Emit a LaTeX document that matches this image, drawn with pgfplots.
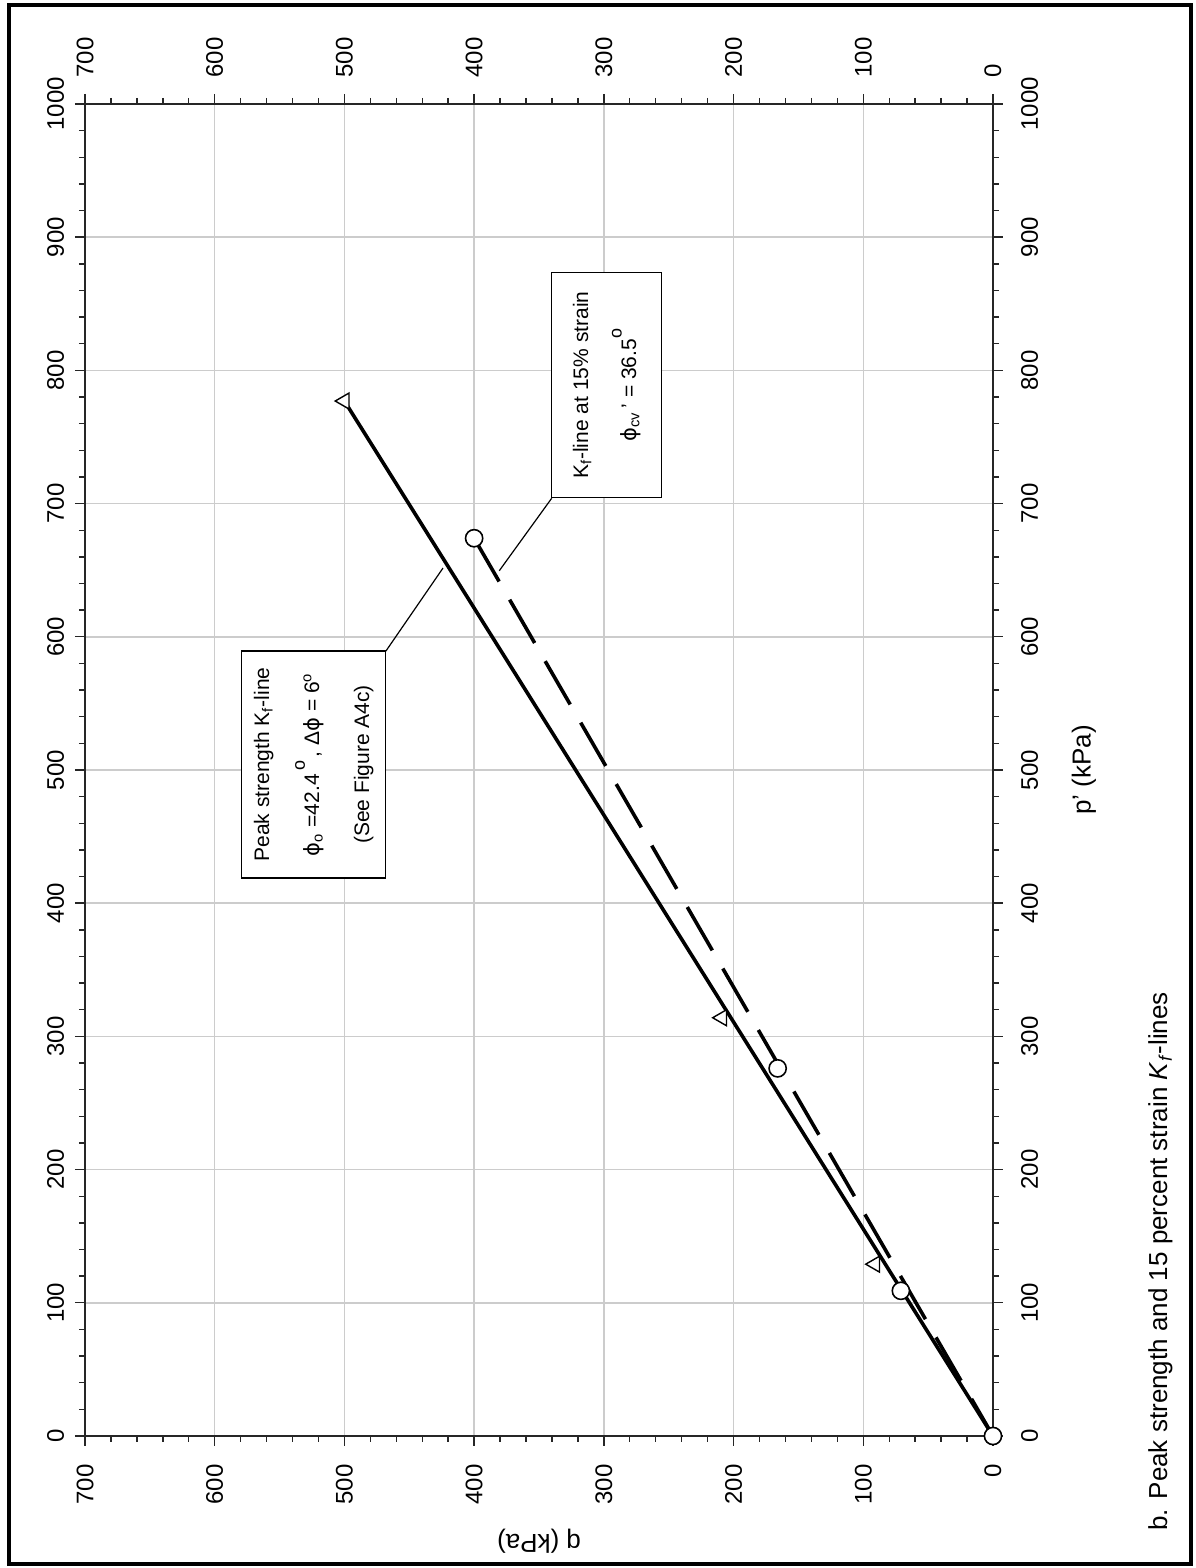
\documentclass[border=0pt]{standalone}
\usepackage{pgfplots}
\pgfplotsset{compat=1.18}
\usepackage{fontspec}
\setmainfont{Liberation Sans}
\newfontfamily\dv{DejaVu Sans}
\newcommand{\vphi}{{\dv ϕ}}
\begin{document}
\begin{tikzpicture}
\path[use as bounding box] (-42.5pt,-66pt) rectangle (555pt,718pt);
\begin{axis}[
  at={(0pt,0pt)}, anchor=south west,
  scale only axis, width=454pt, height=666pt,
  xmin=0, xmax=700, x dir=reverse, ymin=0, ymax=1000,
  xtick={0,100,...,700}, ytick={0,100,...,1000},
  minor x tick num=4, minor y tick num=4,
  tick align=outside, tick pos=both,
  major tick length=5pt, minor tick length=3pt,
  every tick/.style={black!85, line width=0.7pt},
  grid=major, major grid style={gray!40, line width=0.75pt},
  axis line style={black!85, line width=1pt},
  /pgf/number format/assume math mode=true,
  /pgf/number format/1000 sep={},
  xticklabel style={rotate=90, anchor=east, inner sep=0pt, font=\fontsize{12}{14}\selectfont},
  yticklabel style={rotate=90, anchor=base, inner sep=0pt, font=\fontsize{12}{14}\selectfont},
  xticklabel shift=9pt, yticklabel shift=5.5pt,
  clip=false,
]
\addplot[black, line width=1.8pt] coordinates {(0,0) (500,777)};
\addplot[black, line width=1.8pt, dash pattern=on 25pt off 10.5pt] coordinates {(400,674) (0,0)};
\draw[black, line width=0.6pt] (axis cs:468,589.3) -- (axis cs:424,651.6);
\draw[black, line width=0.6pt] (axis cs:340.2,704) -- (axis cs:380.6,649.6);
\addplot[only marks, mark=triangle*, mark size=4.6pt, mark options={rotate=90, fill=white, draw=black, line width=0.7pt}] coordinates {(91,129) (209,314) (500,777)};
\addplot[only marks, mark=*, mark size=4.3pt, mark options={fill=white, draw=black, line width=0.8pt}] coordinates {(0,0) (71,109) (166,276) (400,674)};
\node[draw=black, line width=0.6pt, fill=white, rotate=90, minimum width=113.5pt, minimum height=72pt, inner sep=0pt, align=center, font=\fontsize{10.5}{25}\selectfont] at (axis cs:523.6,504.1)
  {Peak strength K\textsubscript{f}-line\\\vphi\textsubscript{o} =42.4\,\raisebox{1.3ex}{\small o}\,, Δ\vphi\ = 6\textsuperscript{o}\\(See Figure A4c)};
\node[draw=black, line width=0.6pt, fill=white, rotate=90, minimum width=112.5pt, minimum height=55pt, inner sep=0pt, align=center, font=\fontsize{10.5}{24}\selectfont] at (axis cs:297.8,788.9)
  {K\textsubscript{f}-line at 15\% strain\\\vphi\textsubscript{cv}\,' = 36.5\raisebox{1.3ex}{\small o}};
\end{axis}
\begin{axis}[
  at={(0pt,0pt)}, anchor=south west,
  scale only axis, width=454pt, height=666pt,
  xmin=0, xmax=700, x dir=reverse, ymin=0, ymax=1000,
  xtick={0,100,...,700}, ytick={0,100,...,1000},
  xticklabel pos=upper, yticklabel pos=right,
  axis line style={draw=none}, tick style={draw=none},
  major tick length=0pt, minor tick num=0,
  /pgf/number format/assume math mode=true,
  /pgf/number format/1000 sep={},
  xticklabel style={rotate=90, anchor=west, inner sep=0pt, font=\fontsize{12}{14}\selectfont},
  yticklabel style={rotate=90, anchor=base, inner sep=0pt, font=\fontsize{12}{14}\selectfont},
  xticklabel shift=13pt, yticklabel shift=22.5pt,
]
\end{axis}
\draw[line width=1.8pt] (-38pt,-64pt) rectangle (553pt,715.5pt);
\node[rotate=180, font=\fontsize{13}{15}\selectfont] at (227pt,-52.5pt) {q (kPa)};
\node[rotate=90, font=\fontsize{13}{15}\selectfont] at (499.5pt,333pt) {p' (kPa)};
\node[rotate=90, anchor=base west, inner sep=0pt, font=\fontsize{13}{15}\selectfont] at (541pt,-47.5pt)
  {b. Peak strength and 15 percent strain \textit{K}\textsubscript{\textit{f}}-lines};
\end{tikzpicture}
\end{document}
